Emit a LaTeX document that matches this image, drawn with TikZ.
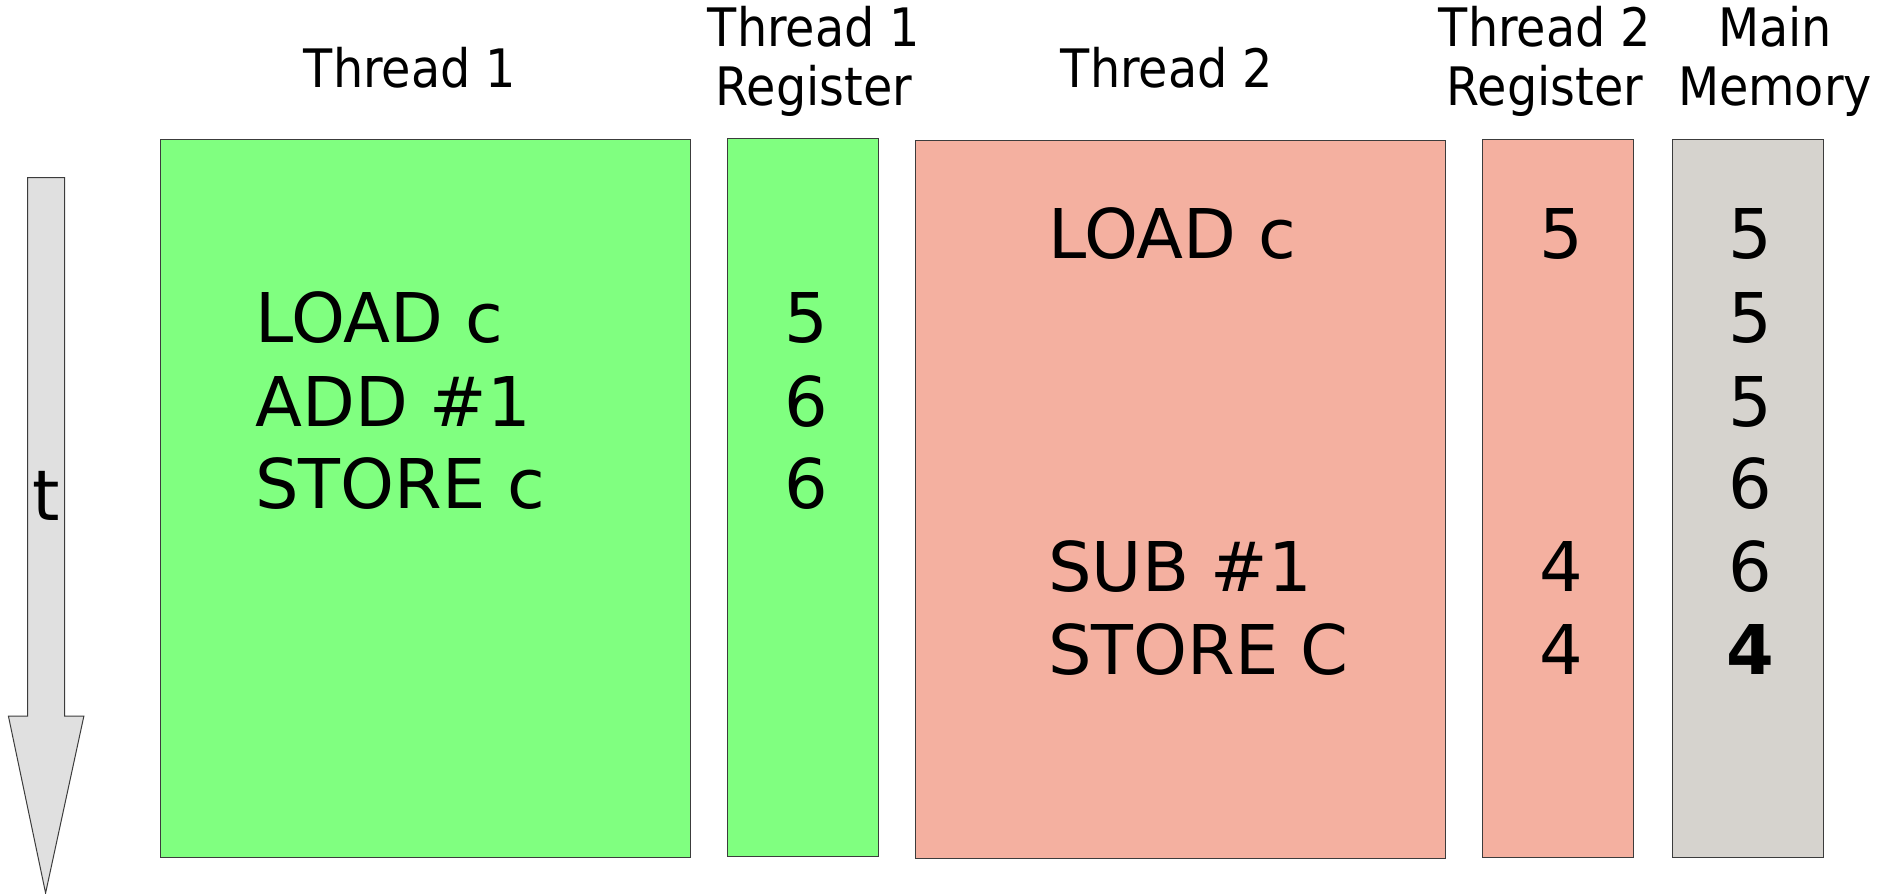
\documentclass[tikz,border=0pt]{standalone}
\usepackage{fontspec}
\setmainfont{DejaVu Sans}
\newfontfamily\condfont{DejaVu Sans Condensed}
\definecolor{tgreen}{RGB}{128,255,128}
\definecolor{tsalmon}{RGB}{244,176,160}
\definecolor{mgray}{RGB}{214,211,206}
\definecolor{agray}{RGB}{224,224,224}
\definecolor{bordergray}{RGB}{60,60,60}
\begin{document}
\begin{tikzpicture}[x=0.5pt,y=-0.5pt,
  box/.style={draw=bordergray,line width=0.6pt,anchor=north west,inner sep=0pt},
  head/.style={font=\condfont\fontsize{26.5pt}{29.5pt}\selectfont,align=center,inner sep=0pt},
  instr/.style={font=\fontsize{34.3pt}{40pt}\selectfont,anchor=base west,inner sep=0pt},
  val/.style={font=\fontsize{34.3pt}{40pt}\selectfont,anchor=base,inner sep=0pt}]
\useasboundingbox (0,0) rectangle (1880,894);
% boxes
\node[box,fill=tgreen,minimum width=265pt,minimum height=359pt] (t1) at (160,139) {};
\node[box,fill=tgreen,minimum width=75.5pt,minimum height=359pt] (r1) at (727,138) {};
\node[box,fill=tsalmon,minimum width=265pt,minimum height=359pt] (t2) at (915,140) {};
\node[box,fill=tsalmon,minimum width=75.5pt,minimum height=359pt] (r2) at (1482,139) {};
\node[box,fill=mgray,minimum width=75.5pt,minimum height=359pt] (mm) at (1672,139) {};
% headers
\node[head] (h1) at (410,68) {Thread 1};
\node[head] (h2) at (814,61) {Thread 1\\Register};
\node[head] (h3) at (1167,68) {Thread 2};
\node[head] (h4) at (1545,61) {Thread 2\\Register};
\node[head] (h5) at (1775,61) {Main\\Memory};
% time arrow
\draw[draw=bordergray,line width=0.5pt,fill=agray] (27.6,177.5) -- (64.7,177.5) -- (64.7,716) -- (83.9,716) -- (45.6,893) -- (8.4,716) -- (27.6,716) -- cycle;
\node[font=\fontsize{35pt}{40pt}\selectfont,anchor=base,inner sep=0pt] (tl) at (46,520) {t};
% thread 1
\node[instr] (i1) at (255,342) {LOAD c};
\node[instr] (i2) at (255,426) {ADD \#1};
\node[instr] (i3) at (255,508) {STORE c};
\node[val] (v1) at (806,342) {5};
\node[val] (v2) at (806,426) {6};
\node[val] (v3) at (806,508) {6};
% thread 2
\node[instr] (j1) at (1048,258) {LOAD c};
\node[instr] (j2) at (1048,591) {SUB \#1};
\node[instr] (j3) at (1048,674) {STORE C};
\node[val] (w1) at (1561,258) {5};
\node[val] (w2) at (1561,591) {4};
\node[val] (w3) at (1561,674) {4};
% main memory
\node[val] (m1) at (1750,258) {5};
\node[val] (m2) at (1750,342) {5};
\node[val] (m3) at (1750,426) {5};
\node[val] (m4) at (1750,508) {6};
\node[val] (m5) at (1750,591) {6};
\node[val,font=\bfseries\fontsize{34.3pt}{40pt}\selectfont] (m6) at (1750,674) {4};
\end{tikzpicture}
\end{document}
